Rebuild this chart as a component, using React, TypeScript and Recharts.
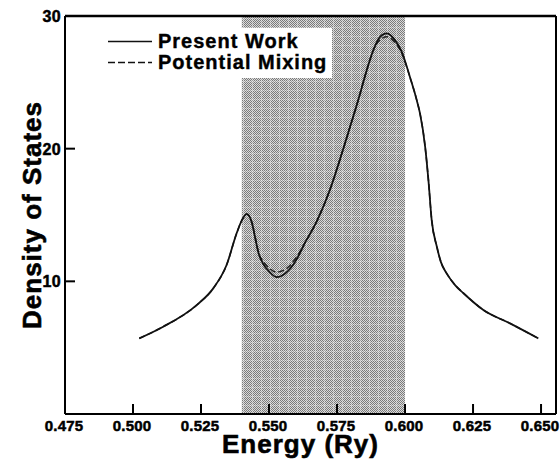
import { LineChart, Line, XAxis, YAxis, ReferenceArea, ReferenceLine, Legend } from 'recharts';

const ENERGY = [
  0.5023, 0.5111, 0.5234, 0.5295, 0.5344, 0.5381, 0.54, 0.5418, 0.5436, 0.5449,
  0.5462, 0.5479, 0.55, 0.5528, 0.556, 0.56, 0.5632, 0.5675, 0.5724, 0.5761,
  0.5798, 0.5828, 0.5859, 0.5883, 0.5908, 0.5933, 0.5963, 0.5988, 0.6018, 0.6043,
  0.6055, 0.6074, 0.6086, 0.6098, 0.6117, 0.6132, 0.6153, 0.6184, 0.6215, 0.6288,
  0.6386, 0.649,
];
const PRESENT_WORK = [
  5.7, 6.58, 8.21, 9.47, 11.23, 13.62, 14.6, 15.07, 14.5, 13.3,
  12.1, 11.3, 10.75, 10.32, 10.6, 11.6, 12.9, 14.5, 16.9, 19.2,
  21.65, 23.66, 25.9, 27.4, 28.43, 28.69, 28.18, 27.3, 25.4, 23.66,
  22.66, 20.14, 17.63, 14.62, 12.61, 11.45, 10.6, 9.72, 9.1, 7.84,
  6.83, 5.7,
];
const POTENTIAL_MIXING = [
  5.7, 6.58, 8.21, 9.47, 11.23, 13.62, 14.6, 15.07, 14.5, 13.3,
  12.1, 11.5, 11.0, 10.7, 10.9, 11.8, 12.9, 14.5, 16.9, 19.2,
  21.65, 23.66, 25.9, 27.4, 28.2, 28.43, 28.0, 27.2, 25.4, 23.66,
  22.66, 20.14, 17.63, 14.62, 12.61, 11.45, 10.6, 9.72, 9.1, 7.84,
  6.83, 5.7,
];
const X_TICKS = [0.475, 0.5, 0.525, 0.55, 0.575, 0.6, 0.625, 0.65];
const Y_TICKS = [10, 20, 30];
const X_DOMAIN = [0.475, 0.6555];
const SHADED = [0.54, 0.6];

const FONT = '"Liberation Sans", Arial, Helvetica, sans-serif';

const data = ENERGY.map((e, i) => ({ e, present: PRESENT_WORK[i], mixing: POTENTIAL_MIXING[i] }));

function XTick({ x, y, payload }: any) {
  return (
    <g>
      {payload.value !== X_TICKS[0] && <line x1={x} x2={x} y1={y} y2={y - 10} stroke="#000" strokeWidth={2} />}
      <text x={x - 1} y={y + 17} textAnchor="middle" fontFamily={FONT} fontWeight="bold" fontSize={15} letterSpacing={0.2} fill="#000" stroke="#000" strokeWidth={0.5}>
        {payload.value.toFixed(3)}
      </text>
    </g>
  );
}

function YTick({ x, y, payload }: any) {
  return (
    <g>
      {payload.value !== 30 && <line x1={x} x2={x + 10} y1={y} y2={y} stroke="#000" strokeWidth={2} />}
      <text x={x - 4} y={y + 6} textAnchor="end" fontFamily={FONT} fontWeight="bold" fontSize={16} letterSpacing={0.3} fill="#000" stroke="#000" strokeWidth={0.5}>
        {payload.value}
      </text>
    </g>
  );
}

function LegendBox() {
  const rows = [
    { name: 'Present Work', dash: undefined },
    { name: 'Potential Mixing', dash: '7 3' },
  ];
  return (
    <div style={{ background: '#fff', width: 228, height: 50, paddingTop: 3, boxSizing: 'border-box' }}>
      {rows.map((r) => (
        <div key={r.name} style={{ display: 'flex', alignItems: 'center', height: 21 }}>
          <svg width={50} height={21}>
            <line x1={4} x2={48} y1={10.5} y2={10.5} stroke="#111" strokeWidth={1.6} strokeDasharray={r.dash} />
          </svg>
          <span style={{ marginLeft: 4, fontFamily: FONT, fontWeight: 'bold', fontSize: 20, letterSpacing: 1, color: '#000', lineHeight: '21px', WebkitTextStroke: '0.4px #000' }}>
            {r.name}
          </span>
        </div>
      ))}
    </div>
  );
}

export default function App() {
  return (
    <div style={{ position: 'absolute', left: 0, top: 0, width: 560, height: 459, background: '#fff' }}>
      <LineChart width={560} height={459} data={data} margin={{ top: 16, right: 4, bottom: 0, left: 0 }}>
        <defs>
          <pattern id="dither" width={2} height={2} patternUnits="userSpaceOnUse">
            <rect width={2} height={2} fill="#dadada" />
            <rect width={1} height={1} fill="#7a7a7a" />
            <rect x={1} y={1} width={1} height={1} fill="#7a7a7a" />
          </pattern>
          <pattern id="grid" width={9} height={9} patternUnits="userSpaceOnUse">
            <rect width={1} height={9} fill="rgba(255,255,255,0.3)" />
            <rect width={9} height={1} fill="rgba(255,255,255,0.25)" />
          </pattern>
        </defs>
        <ReferenceArea x1={SHADED[0]} x2={SHADED[1]} y1={0} y2={30} fill="url(#dither)" fillOpacity={1} stroke="none" />
        <ReferenceArea x1={SHADED[0]} x2={SHADED[1]} y1={0} y2={30} fill="url(#grid)" fillOpacity={1} stroke="none" />
        <XAxis
          dataKey="e"
          type="number"
          domain={X_DOMAIN}
          ticks={X_TICKS}
          allowDataOverflow
          height={45}
          tickSize={0}
          tickMargin={0}
          tickLine={false}
          axisLine={{ stroke: '#000', strokeWidth: 2 }}
          tick={<XTick />}
          interval={0}
          label={{
            content: ({ viewBox }: any) => {
              const vb = viewBox || { x: 65, y: 414, width: 491 };
              return (
                <text x={vb.x + vb.width / 2 - 10} y={vb.y + 39} textAnchor="middle" fontFamily={FONT} fontWeight="bold" fontSize={26} letterSpacing={1} fill="#000" stroke="#000" strokeWidth={0.6}>
                  Energy (Ry)
                </text>
              );
            },
          }}
        />
        <YAxis
          type="number"
          domain={[0, 30]}
          ticks={Y_TICKS}
          width={65}
          tickSize={0}
          tickMargin={0}
          tickLine={false}
          axisLine={{ stroke: '#000', strokeWidth: 2 }}
          tick={<YTick />}
          interval={0}
          label={{
            content: ({ viewBox }: any) => {
              const vb = viewBox || { x: 0, y: 16, width: 65, height: 398 };
              const cx = vb.x + 32;
              const cy = vb.y + vb.height / 2;
              return (
                <text x={cx} y={cy} transform={`rotate(-90, ${cx}, ${cy})`} textAnchor="middle" dominantBaseline="central" fontFamily={FONT} fontWeight="bold" fontSize={26} letterSpacing={1} fill="#000" stroke="#000" strokeWidth={0.6}>
                  Density of States
                </text>
              );
            },
          }}
        />
        <ReferenceLine y={30} stroke="#000" strokeWidth={2.5} />
        <ReferenceLine x={X_DOMAIN[1]} stroke="#000" strokeWidth={2} />
        <Line type="monotone" dataKey="mixing" name="Potential Mixing" stroke="#222" strokeWidth={1.5} strokeDasharray="6 3" dot={false} isAnimationActive={false} />
        <Line type="monotone" dataKey="present" name="Present Work" stroke="#111" strokeWidth={1.8} dot={false} isAnimationActive={false} />
        <Legend
          layout="vertical"
          align="center"
          verticalAlign="middle"
          content={<LegendBox />}
          wrapperStyle={{ left: 104, top: 28, width: 228, height: 50 }}
        />
      </LineChart>
    </div>
  );
}
